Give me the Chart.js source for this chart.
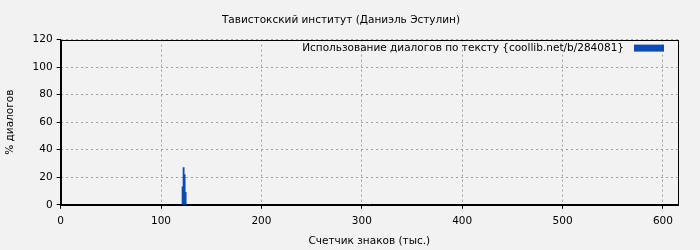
<!DOCTYPE html>
<html>
<head>
<meta charset="utf-8">
<script src="https://cdn.jsdelivr.net/npm/chart.js@4/dist/chart.umd.min.js"></script>
<style>
  html, body { margin: 0; padding: 0; background: #f2f2f2; }
  #wrap { width: 700px; height: 250px; }
</style>
</head>
<body>
<div id="wrap"><canvas id="chart" width="700" height="250"></canvas></div>
<script>
const title = 'Тавистокский институт (Даниэль Эстулин)';
const seriesLabel = 'Использование диалогов по тексту {coollib.net/b/284081}';
const xTitle = 'Счетчик знаков (тыс.)';
const yTitle = '% диалогов';

// позиция (тыс. знаков) и доля диалогов
const positions = [121.5, 122.5, 123.5, 124.5];
const dialogs = [13, 27, 22, 9];

const xTicks = [0, 100, 200, 300, 400, 500, 600];
const yTicks = [0, 20, 40, 60, 80, 100, 120];

const barColor = '#0b4bb3';
const font = { family: 'DejaVu Sans', size: 10.5, weight: 'normal' };

const frame = {
  id: 'frame',
  beforeDraw(chart){
    const c = chart.ctx;
    c.save();
    c.fillStyle = '#f2f2f2';
    c.fillRect(0, 0, chart.width, chart.height);
    c.restore();
  },
  afterDraw(chart){
    const a = chart.chartArea, c = chart.ctx;
    c.save();
    c.strokeStyle = '#000';
    c.lineWidth = 1;
    c.setLineDash([]);
    c.strokeRect(Math.round(a.left) + 0.5, Math.round(a.top) + 0.5, Math.round(a.right - a.left), Math.round(a.bottom - a.top));
    // легенда внутри области графика, справа сверху
    const bx = a.right - 44, by = a.top + 5;
    c.fillStyle = barColor;
    c.fillRect(bx, by, 30, 7);
    c.fillStyle = '#000';
    c.font = '10.5px "DejaVu Sans"';
    c.textAlign = 'right';
    c.textBaseline = 'middle';
    c.fillText(chart.data.datasets[0].label, bx - 10, by + 3.5);
    c.restore();
  }
};

new Chart(document.getElementById('chart'), {
  type: 'bar',
  data: {
    datasets: [{
      label: seriesLabel,
      data: positions.map((p, i) => ({ x: p, y: dialogs[i] })),
      backgroundColor: barColor,
      borderWidth: 0,
      barThickness: 1.2
    }]
  },
  options: {
    responsive: false,
    animation: false,
    layout: { padding: { left: 4, right: 22, top: 0, bottom: 0 } },
    plugins: {
      title: { display: true, text: title, color: '#000', font, padding: { top: 14, bottom: 13 } },
      legend: { display: false },
      tooltip: { enabled: false }
    },
    scales: {
      x: {
        type: 'linear', min: 0, max: 615, offset: false,
        afterBuildTicks: s => { s.ticks = xTicks.map(v => ({ value: v })); },
        ticks: { color: '#000', font, padding: 6 },
        grid: { color: '#a0a0a0', offset: false, drawTicks: true, tickLength: 4, tickColor: '#000', tickBorderDash: [] },
        border: { display: true, color: '#000', dash: [2, 3] },
        title: { display: true, text: xTitle, color: '#000', font, padding: { top: 2, bottom: 2 } }
      },
      y: {
        min: 0, max: 120,
        afterBuildTicks: s => { s.ticks = yTicks.map(v => ({ value: v })); },
        ticks: { color: '#000', font, padding: 4 },
        grid: { color: '#a0a0a0', tickLength: 4, tickColor: '#000', tickBorderDash: [] },
        border: { display: true, color: '#000', dash: [2, 3] },
        title: { display: true, text: yTitle, color: '#000', font, padding: { top: 0, bottom: 12 } }
      }
    }
  },
  plugins: [frame]
});
</script>
</body>
</html>
